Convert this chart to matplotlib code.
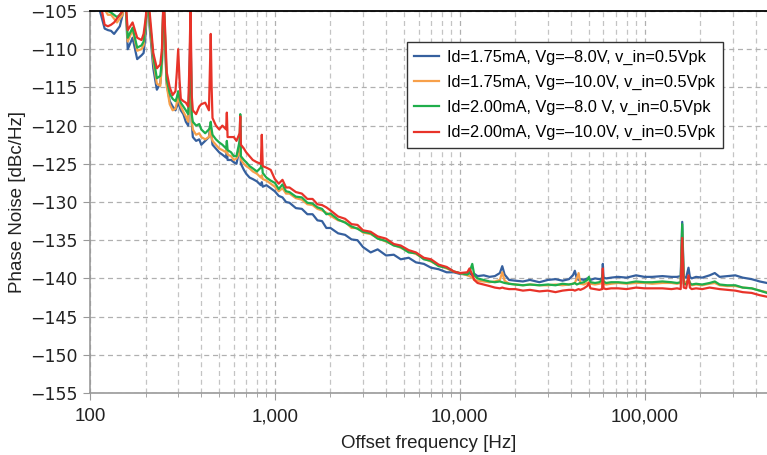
import matplotlib
matplotlib.use('Agg')
import matplotlib.pyplot as plt
from matplotlib.ticker import FixedLocator, LogLocator, FuncFormatter, NullFormatter

# offset frequency grid [Hz]
freq_hz = [
    105, 110, 115, 120, 125, 130, 135, 140, 145, 150,
    155, 160, 170, 180, 190, 195, 200, 205, 210, 220,
    230, 240, 245, 250, 255, 260, 270, 280, 290, 295,
    300, 305, 310, 320, 330, 340, 345, 350, 355, 360,
    375, 390, 400, 420, 440, 445, 450, 455, 460, 480,
    500, 520, 545, 550, 555, 580, 600, 620, 645, 650,
    655, 680, 700, 730, 760, 800, 840, 850, 860, 900,
    950,
    1000, 1050, 1100, 1150, 1200, 1300, 1400, 1500, 1600, 1700,
    1800, 1900, 2000, 2200, 2400, 2600, 2800, 3000, 3300, 3600,
    4000, 4400, 4800, 5300, 5800, 6400, 7000, 7700, 8500, 9300,
    10000,
    11000, 11300, 11700, 12000, 12500, 13500, 14500, 15500, 16500, 17000,
    17500, 18500, 20000, 22000, 24000, 27000, 30000, 33000, 36000, 39000,
    41000, 42000, 43000, 44000, 45000, 47000, 49000, 50000, 51000, 54000,
    57000, 59000, 59500, 60000, 62000, 66000, 72000, 80000, 90000, 100000,
    110000, 125000, 140000, 150000, 157000, 160000, 163000, 168000, 173000, 176000,
    180000, 190000, 205000, 225000, 240000, 255000, 280000, 310000, 340000, 380000,
    420000, 460000,
]

pn_175_8 = [
    -103, -104, -105.6, -107.3, -107.5, -107.6, -108, -107.5, -107, -105.5,
    -103, -110, -108.5, -111.3, -110.8, -110.5, -108, -103, -107, -112.5,
    -115.3, -114.5, -112, -103, -110, -114.5, -116.8, -117.5, -118, -117.5,
    -117, -117.5, -118, -118.5, -119.5, -120, -114, -106, -119.5, -121.5,
    -122, -121.8, -122.5, -122, -121.5, -120.5, -120, -121.5, -122.5, -123,
    -123.5, -123.8, -124.2, -123, -124.5, -124.5, -124.8, -125, -123, -120,
    -125, -125.8, -126.3, -126.8, -127, -127.3, -127.8, -127.4, -128, -127.8,
    -128.2,
    -128.6, -129.2, -129.4, -130.0, -130.1, -130.8, -130.9, -131.6, -131.6, -132.4,
    -132.5, -133.4, -133.4, -134.1, -134.3, -134.9, -135.0, -135.9, -136.6, -136.2,
    -137.0, -136.9, -137.5, -137.3, -137.9, -138.1, -138.6, -138.8, -139.2, -139.2,
    -139.4,
    -139.5, -139.3, -139.6, -139.4, -139.7, -139.6, -139.8, -139.7, -139.3, -138.4,
    -139.5, -140.2, -140.3, -140.4, -140.2, -140.5, -140.2, -140.1, -140.3, -140.1,
    -139.6, -139.0, -140.0, -140.2, -140.1, -140.2, -140.0, -140.1, -140.2, -140.0,
    -140.1, -140.0, -138.1, -139.9, -140.0, -139.9, -139.8, -139.9, -139.6, -139.8,
    -139.8, -139.7, -139.8, -139.8, -139.7, -132.6, -139.8, -139.9, -138.6, -139.8,
    -140.0, -139.8, -139.9, -139.6, -139.3, -139.8, -139.7, -139.6, -139.9, -140.1,
    -140.4, -140.6,
]

pn_175_10 = [
    -103, -103.5, -104, -104.8, -105.5, -105.5, -106, -106.5, -106, -105.5,
    -103, -109, -107.5, -110.2, -110, -109.5, -107, -103, -106.5, -111.5,
    -114.5, -114.8, -112, -103, -109, -114.8, -117.2, -118, -117.8, -117,
    -116, -117, -117.5, -118.2, -118.8, -119.5, -116, -110, -119.3, -120.5,
    -121.2, -121, -121.5, -121.8, -121.5, -121, -120, -121.5, -122, -122.5,
    -123, -123.2, -123.5, -122.8, -123.8, -124, -124.5, -124.3, -123.5, -121.5,
    -124.5, -125, -125.3, -125.6, -126, -126.3, -126.8, -126.5, -127, -127.2,
    -127.6,
    -128.0, -128.6, -128.2, -128.9, -128.9, -129.5, -129.7, -130.3, -130.4, -130.9,
    -131.1, -131.4, -131.8, -132.4, -132.6, -133.4, -133.4, -134.0, -134.2, -134.7,
    -135.2, -135.6, -136.0, -136.5, -136.8, -137.4, -137.8, -138.3, -138.7, -139.1,
    -139.3,
    -139.6, -139.7, -139.9, -140.2, -140.3, -140.4, -140.5, -140.4, -140.2, -139.2,
    -140.3, -140.7, -140.8, -140.9, -140.8, -140.9, -140.9, -140.8, -140.9, -140.8,
    -140.7, -140.6, -140.0, -139.3, -140.7, -140.8, -140.6, -140.5, -140.7, -140.8,
    -140.7, -140.6, -140.0, -140.7, -140.8, -140.7, -140.6, -140.7, -140.6, -140.6,
    -140.7, -140.6, -140.6, -140.7, -140.6, -134.0, -140.3, -140.6, -140.2, -140.8,
    -140.9, -140.8, -140.9, -140.7, -140.6, -140.9, -141.0, -141.0, -141.2, -141.3,
    -141.6, -141.8,
]

pn_200_8 = [
    -102, -102.5, -103.5, -104.5, -105, -105.2, -105.5, -105.8, -105.5, -105,
    -103, -108.5, -107.2, -109.8, -109.5, -109, -106.5, -103, -106, -111,
    -113.8, -113.5, -111.5, -103, -108.5, -114, -115.8, -116.5, -116.8, -116.3,
    -115.5, -116.5, -117, -117.5, -118, -118.5, -115, -108, -118.5, -119.5,
    -120, -119.8, -120.5, -121, -120.5, -120.2, -119.5, -120.5, -121.2, -121.8,
    -122.2, -122.5, -123, -122, -123.2, -123.5, -124, -124, -122, -118.5,
    -124, -124.5, -124.8, -125.3, -125.6, -126, -125.5, -124.8, -126.2, -126.8,
    -127.2,
    -127.5, -128.3, -127.7, -128.6, -128.7, -129.3, -129.4, -130.1, -130.2, -130.7,
    -130.9, -131.6, -131.5, -132.3, -132.7, -133.2, -133.5, -133.9, -134.1, -134.8,
    -135.1, -135.7, -135.9, -136.6, -136.7, -137.5, -137.7, -138.4, -138.6, -139.1,
    -139.3,
    -139.5, -139.2, -138.1, -139.6, -140.0, -140.2, -140.4, -140.5, -140.4, -140.5,
    -140.6, -140.7, -140.8, -140.9, -140.8, -140.9, -140.8, -140.9, -140.7, -140.8,
    -140.7, -140.6, -140.8, -140.7, -140.6, -140.5, -140.2, -139.8, -140.5, -140.6,
    -140.5, -140.2, -139.5, -140.4, -140.6, -140.5, -140.5, -140.6, -140.4, -140.5,
    -140.5, -140.4, -140.5, -140.6, -140.5, -132.9, -140.7, -140.8, -140.0, -140.6,
    -140.8, -140.7, -140.8, -140.6, -140.4, -140.8, -140.9, -140.9, -141.2, -141.3,
    -141.6, -141.9,
]

pn_200_10 = [
    -101, -102, -104.5, -106.8, -107, -106.8, -106.5, -106, -105.5, -105,
    -103, -107.5, -106.5, -108.5, -108.8, -108, -106, -103, -105, -110.5,
    -112.5, -112, -110, -103, -107.5, -113, -115, -116, -115.5, -113,
    -110, -114, -116.5, -116.8, -117, -117.5, -112, -104.5, -116, -118,
    -118.5, -117.5, -117.2, -117, -118, -113, -108, -115, -119, -120,
    -120.5, -120, -120.5, -118.3, -121.5, -121.5, -121.5, -122, -121, -118.8,
    -122.5, -123, -123.5, -124, -124.5, -124.8, -125, -121.2, -125.3, -125.5,
    -125.8,
    -127.0, -127.6, -127.1, -128.1, -128.1, -128.7, -128.9, -129.6, -129.6, -130.3,
    -130.4, -130.7, -131.1, -131.9, -132.2, -132.9, -133.0, -133.7, -133.9, -134.5,
    -134.8, -135.5, -135.7, -136.3, -136.6, -137.3, -137.5, -138.2, -138.5, -139.1,
    -139.3,
    -139.2, -138.7, -139.5, -140.2, -140.6, -140.8, -141.0, -141.2, -141.3, -141.2,
    -141.3, -141.4, -141.4, -141.6, -141.5, -141.7, -141.6, -141.8, -141.6, -141.5,
    -141.5, -141.6, -141.5, -141.4, -141.5, -141.3, -141.0, -140.6, -141.3, -141.4,
    -141.5, -141.4, -138.7, -141.3, -141.4, -141.3, -141.3, -141.4, -141.2, -141.3,
    -141.3, -141.3, -141.4, -141.3, -141.4, -134.7, -141.2, -141.3, -139.6, -141.2,
    -141.4, -141.3, -141.4, -141.2, -141.3, -141.4, -141.5, -141.6, -141.8, -141.9,
    -142.2, -142.4,
]

labels = [
    'Id=1.75mA, Vg=\u20138.0V, v_in=0.5Vpk',
    'Id=1.75mA, Vg=\u201310.0V, v_in=0.5Vpk',
    'Id=2.00mA, Vg=\u20138.0 V, v_in=0.5Vpk',
    'Id=2.00mA, Vg=\u201310.0V, v_in=0.5Vpk',
]
colors = ['#36609e', '#f7a04a', '#1fae4b', '#e83329']
y_ticks = [-105, -110, -115, -120, -125, -130, -135, -140, -145, -150, -155]
x_ticks = [100, 1000, 10000, 100000]

plt.rcParams['font.family'] = ['Liberation Sans', 'DejaVu Sans']

fig = plt.figure(figsize=(7.67, 4.55), dpi=100)
ax = fig.add_axes([90 / 767, 62 / 455, 677 / 767, 382 / 455])

for series, lab, col in zip([pn_175_8, pn_175_10, pn_200_8, pn_200_10], labels, colors):
    ax.plot(freq_hz, series, color=col, lw=1.6, label=lab)

ax.set_xscale('log')
ax.set_xlim(100, 4.6e5)
ax.set_ylim(-155, -105)
ax.xaxis.set_major_locator(FixedLocator(x_ticks))
ax.xaxis.set_major_formatter(FuncFormatter(lambda v, p: f'{int(round(v)):,}'))
ax.xaxis.set_minor_locator(LogLocator(base=10, subs=range(2, 10)))
ax.xaxis.set_minor_formatter(NullFormatter())
ax.set_yticks(y_ticks)
ax.set_yticklabels(['\u2212%d' % abs(v) for v in y_ticks], family='DejaVu Sans', fontsize=12.5)

ax.grid(which='major', color='#b0b0b0', ls=(0, (4, 3)), lw=0.9)
ax.grid(which='minor', axis='x', color='#c4c4c4', ls=(0, (4, 3)), lw=0.9)
ax.set_axisbelow(True)

for s in ['left', 'bottom']:
    ax.spines[s].set_color('#999999')
    ax.spines[s].set_linewidth(1.2)
ax.spines['right'].set_visible(False)
ax.spines['top'].set_color('black')
ax.spines['top'].set_linewidth(1.3)
ax.tick_params(which='major', direction='out', length=5, color='#999999',
               labelcolor='#222222', pad=4)
ax.tick_params(axis='x', which='major', labelsize=13.5, pad=6)
ax.tick_params(which='minor', direction='out', length=3, color='#999999')

ax.set_xlabel('Offset frequency [Hz]', fontsize=13.5, color='#222222', labelpad=7)
ax.set_ylabel('Phase Noise [dBc/Hz]', fontsize=13.5, color='#222222', labelpad=3)

leg = ax.legend(loc='upper left', bbox_to_anchor=(407 / 767, 1 - 42 / 455),
                bbox_transform=fig.transFigure, fontsize=11.8, fancybox=False,
                edgecolor='#333333', framealpha=1, borderaxespad=0,
                handlelength=1.5, handletextpad=0.5, labelspacing=0.62, borderpad=0.45)
leg.get_frame().set_linewidth(1.0)

fig.savefig('out.png', dpi=100)
